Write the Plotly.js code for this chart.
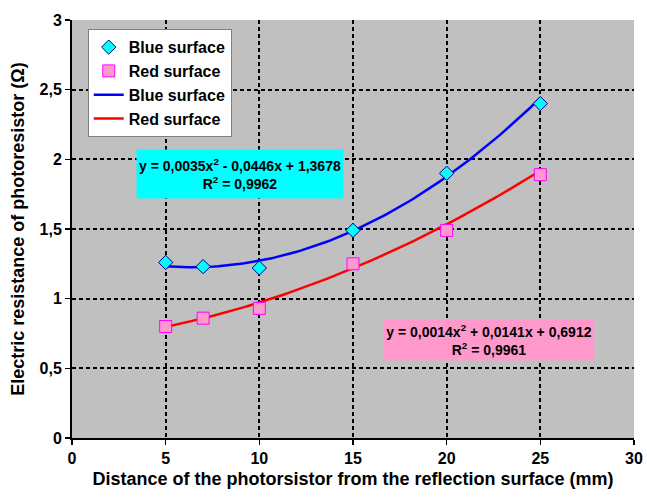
<!DOCTYPE html>
<html>
<head>
<meta charset="utf-8">
<script src="https://cdn.plot.ly/plotly-3.0.1.min.js"></script>
<style>html,body{margin:0;padding:0;background:#fff}#chart{width:647px;height:497px}</style>
</head>
<body>
<div id="chart"></div>
<script>
// Measured data
const distance = [5, 7, 10, 15, 20, 25];
const blueSurface = [1.26, 1.23, 1.22, 1.49, 1.90, 2.40];
const redSurface = [0.80, 0.86, 0.93, 1.25, 1.49, 1.89];
// Trendline coefficients shown on chart [a, b, c] for a*x^2 + b*x + c
const blueCoef = [0.0035, -0.0446, 1.3678];
const redCoef = [0.0014, 0.0141, 0.6912];
const blueEq = "y = 0,0035x<sup>2</sup> - 0,0446x + 1,3678<br>R<sup>2</sup> = 0,9962";
const redEq = "y = 0,0014x<sup>2</sup> + 0,0141x + 0,6912<br>R<sup>2</sup> = 0,9961";
const xTicks = [0, 5, 10, 15, 20, 25, 30];
const yTicks = [0, 0.5, 1, 1.5, 2, 2.5, 3];

function trend(coef) {
  const xs = [], ys = [];
  const x0 = distance[0], x1 = distance[distance.length - 1];
  for (let i = 0; i <= 100; i++) {
    const x = x0 + (x1 - x0) * i / 100;
    xs.push(x);
    ys.push(coef[0] * x * x + coef[1] * x + coef[2]);
  }
  return {xs, ys};
}
const bt = trend(blueCoef), rt = trend(redCoef);

const font = "Liberation Sans, Arial, sans-serif";
const traces = [
  {x: bt.xs, y: bt.ys, mode: 'lines', name: 'Blue surface', line: {color: '#0000ff', width: 2.5}, showlegend: false, hoverinfo: 'skip'},
  {x: rt.xs, y: rt.ys, mode: 'lines', name: 'Red surface', line: {color: '#ff0000', width: 2.5}, showlegend: false, hoverinfo: 'skip'},
  {x: distance, y: blueSurface, mode: 'markers', name: 'Blue surface',
   marker: {symbol: 'diamond', size: 11, color: '#00ffff', line: {color: '#000080', width: 1}}},
  {x: distance, y: redSurface, mode: 'markers', name: 'Red surface',
   marker: {symbol: 'square', size: 12, color: '#ff99cc', line: {color: '#ff00ff', width: 1}}},
  {x: [null], y: [null], mode: 'lines', name: 'Blue surface', line: {color: '#0000ff', width: 2.5}},
  {x: [null], y: [null], mode: 'lines', name: 'Red surface', line: {color: '#ff0000', width: 2.5}}
];

const axisCommon = {
  showline: true, linecolor: '#000', linewidth: 2, mirror: false,
  ticks: 'outside', ticklen: 5, tickwidth: 1.5, tickcolor: '#000',
  showgrid: true, gridcolor: '#000', gridwidth: 2, griddash: '4px,3px',
  zeroline: false,
  tickfont: {family: font, size: 16, color: '#000', weight: 'bold'}
};

const layout = {
  width: 647, height: 497,
  margin: {l: 72, r: 13, t: 20, b: 59},
  paper_bgcolor: '#fff', plot_bgcolor: '#c0c0c0',
  separators: ', ',
  font: {family: font, color: '#000'},
  xaxis: Object.assign({}, axisCommon, {
    range: [0, 30], tickvals: xTicks, ticktext: xTicks.map(String),
    title: {text: 'Distance of the photorsistor from the reflection surface (mm)', font: {family: font, size: 18, weight: 'bold'}, standoff: 6}
  }),
  yaxis: Object.assign({}, axisCommon, {
    range: [0, 3], tickvals: yTicks, ticktext: yTicks.map(v => String(v).replace('.', ',')),
    title: {text: 'Electric resistance of photoresistor (Ω)', font: {family: font, size: 18, weight: 'bold'}, standoff: 10}
  }),
  legend: {
    x: 0.028, y: 0.978, xanchor: 'left', yanchor: 'top',
    bgcolor: '#fff', bordercolor: '#808080', borderwidth: 1,
    font: {family: font, size: 16, weight: 'bold', color: '#000'},
    tracegroupgap: 0
  },
  annotations: [
    {x: 8.97, y: 1.895, xref: 'x', yref: 'y', xanchor: 'center', yanchor: 'middle', text: blueEq, showarrow: false,
     bgcolor: '#00ffff', font: {family: font, size: 14, weight: 'bold', color: '#000'},
     width: 204, height: 46, align: 'center'},
    {x: 22.26, y: 0.703, xref: 'x', yref: 'y', xanchor: 'center', yanchor: 'middle', text: redEq, showarrow: false,
     bgcolor: '#ff99cc', font: {family: font, size: 14, weight: 'bold', color: '#000'},
     width: 208, height: 38, align: 'center'}
  ]
};

Plotly.newPlot('chart', traces, layout, {displayModeBar: false, staticPlot: true});
</script>
</body>
</html>
